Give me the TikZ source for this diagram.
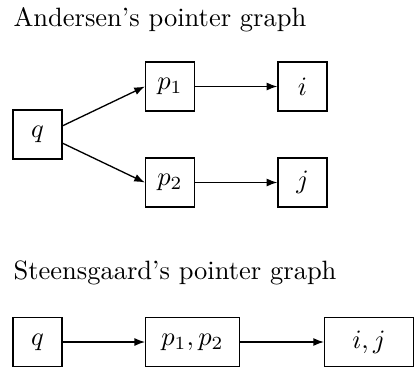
\documentclass[tikz,border=0pt]{standalone}
\usetikzlibrary{arrows.meta}
\begin{document}
\begin{tikzpicture}[x=0.3774pt,y=-0.3774pt,
  box/.style={draw,line width=0.5pt,inner sep=0pt,minimum height=18.5pt},
  sq/.style={box,minimum width=18.5pt},
  arr/.style={line width=0.5pt,-{Latex[length=4pt,width=3pt]}},
  title/.style={anchor=base west,inner sep=0pt}]
\useasboundingbox (0,0) rectangle (416,369);
\node[title] (t1) at (13,26) {Andersen's pointer graph};
\node[sq] (q) at (37.5,134.5) {$q$};
\node[sq] (p1) at (170,86.5) {$p_1$};
\node[sq] (i) at (302.5,86.5) {$i$};
\node[sq] (p2) at (170,182.5) {$p_2$};
\node[sq] (j) at (302.5,182.5) {$j$};
\draw[arr] ([yshift=3.3pt]q.east) -- (p1.west);
\draw[arr] ([yshift=-3.3pt]q.east) -- (p2.west);
\draw[arr] (p1) -- (i);
\draw[arr] (p2) -- (j);
\node[title] (t2) at (13,279.5) {Steensgaard's pointer graph};
\node[sq] (q2) at (37.5,342) {$q$};
\node[box,minimum width=35.3pt] (p12) at (192.5,342) {$p_1,p_2$};
\node[box,minimum width=33.5pt] (ij) at (369,342) {$i,j$};
\draw[arr] (q2) -- (p12);
\draw[arr] (p12) -- (ij);
\end{tikzpicture}
\end{document}
